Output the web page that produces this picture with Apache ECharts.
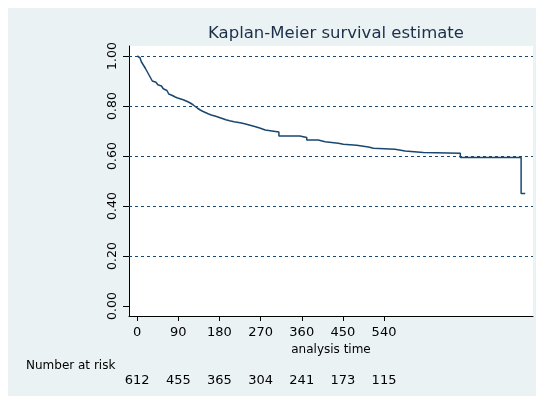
<!DOCTYPE html>
<html>
<head>
<meta charset="utf-8">
<script src="https://cdn.jsdelivr.net/npm/echarts@6/dist/echarts.min.js"></script>
<style>
html,body{margin:0;padding:0;background:#ffffff;}
#c{position:absolute;left:8px;top:8px;width:528px;height:388px;}
</style>
</head>
<body>
<div id="c"></div>
<script>
// Kaplan-Meier step points (time in days, survival after that time)
const times = [0,3,6,9,12,15,18,21,24,27,30,33,37,41,45,49,53,57,61,65,69,73,77,82,87,92,97,102,107,112,117,122,127,132,137,143,149,155,162,170,178,186,194,202,212,225,235,245,257,268,280,310,356,371,396,411,440,451,480,506,517,564,586,626,707,840,849];
const survival = [1.0,0.993,0.985,0.977,0.968,0.959,0.95,0.94,0.93,0.92,0.91,0.9,0.895,0.89,0.885,0.88,0.875,0.869,0.862,0.855,0.848,0.842,0.837,0.833,0.83,0.827,0.824,0.82,0.816,0.811,0.805,0.798,0.791,0.785,0.779,0.774,0.769,0.764,0.76,0.755,0.75,0.745,0.741,0.737,0.733,0.729,0.724,0.718,0.712,0.704,0.696,0.68,0.674,0.664,0.657,0.651,0.647,0.643,0.636,0.631,0.627,0.62,0.614,0.611,0.594,0.45,0.45];
const xTicks = [0,90,180,270,360,450,540];
const riskCounts = [612,455,365,304,241,173,115];
const yTicks = [0,0.2,0.4,0.6,0.8,1.0];
const gridValues = [0.2,0.4,0.6,0.8,1.0];

const navy = '#1a476f';
const font = 'DejaVu Sans';
const chart = echarts.init(document.getElementById('c'));
const riskMap = {};
xTicks.forEach((t,i)=>{ riskMap[t] = riskCounts[i]; });

chart.setOption({
  animation:false,
  backgroundColor:'#eaf2f3',
  title:{
    text:'Kaplan-Meier survival estimate',
    left:323, top:12, textAlign:'center',
    textStyle:{fontFamily:font, fontSize:16.5, fontWeight:'normal', color:'#1c2e4a'}
  },
  graphic:[{
    type:'text', left:18, top:352,
    style:{text:'Number at risk', fontFamily:font, fontSize:12, fill:'#000'}
  }],
  grid:{left:121, right:3, top:38, bottom:80, show:true, backgroundColor:'#ffffff', borderWidth:0},
  xAxis:[{
    type:'value', min:-18, max:866,
    name:'analysis time', nameLocation:'middle', nameGap:21,
    nameTextStyle:{fontFamily:font, fontSize:12, color:'#000'},
    axisLine:{show:true, onZero:false, lineStyle:{color:'#000', width:1}},
    axisTick:{show:true, length:5, customValues:xTicks, lineStyle:{color:'#000'}},
    axisLabel:{customValues:xTicks, fontFamily:font, fontSize:13, color:'#000', margin:10},
    splitLine:{show:false}
  },{
    type:'value', min:-18, max:866, position:'bottom', offset:51,
    axisLine:{show:false}, axisTick:{show:false},
    axisLabel:{customValues:xTicks, fontFamily:font, fontSize:13, color:'#000', margin:7,
      formatter:function(v){ return riskMap[v] !== undefined ? String(riskMap[v]) : ''; }},
    splitLine:{show:false}
  }],
  yAxis:{
    type:'value', min:-0.04, max:1.04,
    axisLine:{show:true, onZero:false, lineStyle:{color:'#000', width:1}},
    axisTick:{show:true, length:6, customValues:yTicks, lineStyle:{color:'#000'}},
    axisLabel:{customValues:yTicks, rotate:90, fontFamily:font, fontSize:12.5, color:'#000', margin:10,
      formatter:function(v){ return v.toFixed(2); }},
    splitLine:{show:false}
  },
  series:[{
    type:'line', step:'end', xAxisIndex:0, showSymbol:false,
    data: times.map((t,i)=>[t, survival[i]]),
    lineStyle:{color:navy, width:1.5},
    itemStyle:{color:navy},
    markLine:{
      silent:true, symbol:'none', label:{show:false},
      lineStyle:{color:navy, type:[3,3], width:1},
      data: gridValues.map(v=>({yAxis:v}))
    }
  }]
});
</script>
</body>
</html>
